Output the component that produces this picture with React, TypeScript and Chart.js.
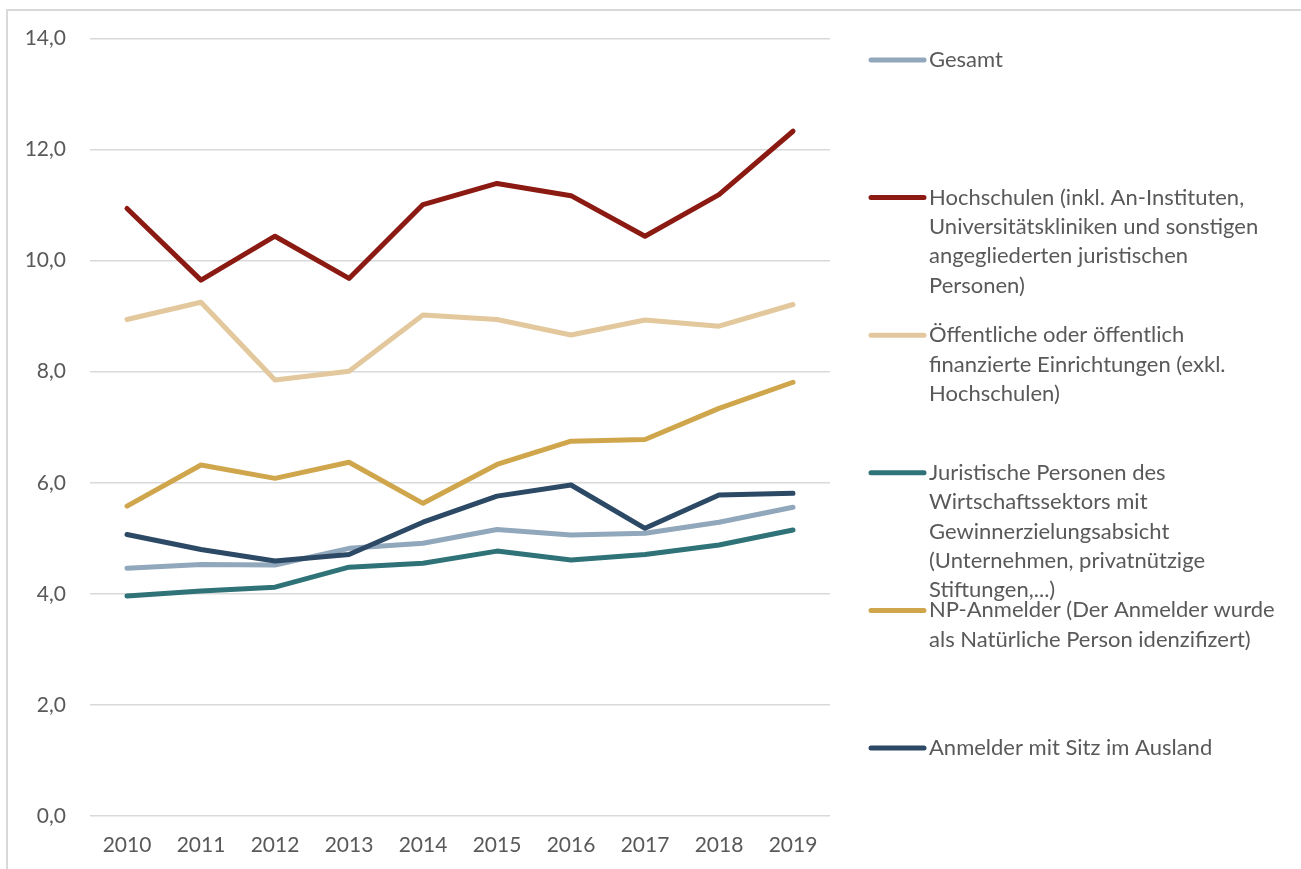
import React, { useEffect, useRef } from "react";
import { Chart, registerables } from "chart.js";

Chart.register(...registerables);

const years = ["2010", "2011", "2012", "2013", "2014", "2015", "2016", "2017", "2018", "2019"];
const gesamt = [4.46, 4.53, 4.52, 4.82, 4.91, 5.16, 5.06, 5.09, 5.29, 5.56];
const hochschulen = [10.94, 9.65, 10.44, 9.68, 11.01, 11.39, 11.17, 10.44, 11.19, 12.33];
const oeffentliche = [8.94, 9.25, 7.85, 8.01, 9.02, 8.94, 8.66, 8.93, 8.82, 9.21];
const juristische = [3.96, 4.05, 4.12, 4.48, 4.55, 4.77, 4.61, 4.71, 4.88, 5.15];
const npAnmelder = [5.58, 6.32, 6.08, 6.37, 5.63, 6.33, 6.75, 6.78, 7.34, 7.81];
const ausland = [5.07, 4.8, 4.59, 4.71, 5.29, 5.76, 5.96, 5.18, 5.78, 5.81];

const seriesNames = [
  "Gesamt",
  "Hochschulen (inkl. An-Instituten, Universitätskliniken und sonstigen angegliederten juristischen Personen)",
  "Öffentliche oder öffentlich finanzierte Einrichtungen (exkl. Hochschulen)",
  "Juristische Personen des Wirtschaftssektors mit Gewinnerzielungsabsicht (Unternehmen, privatnützige Stiftungen,...)",
  "NP-Anmelder (Der Anmelder wurde als Natürliche Person idenzifizert)",
  "Anmelder mit Sitz im Ausland",
];
const legendLines = [
  ["Gesamt"],
  ["Hochschulen (inkl. An-Instituten,", "Universitätskliniken und sonstigen", "angegliederten juristischen", "Personen)"],
  ["Öffentliche oder öffentlich", "finanzierte Einrichtungen (exkl.", "Hochschulen)"],
  ["Juristische Personen des", "Wirtschaftssektors mit", "Gewinnerzielungsabsicht", "(Unternehmen, privatnützige", "Stiftungen,...)"],
  ["NP-Anmelder (Der Anmelder wurde", "als Natürliche Person idenzifizert)"],
  ["Anmelder mit Sitz im Ausland"],
];
const colors = ["#91A7BC", "#8B1A12", "#E2C89C", "#2F7379", "#CFA64C", "#2C4966"];
const seriesValues = [gesamt, hochschulen, oeffentliche, juristische, npAnmelder, ausland];
const yTicks = [0, 2, 4, 6, 8, 10, 12, 14];

const FONT = "Lato, 'Open Sans', sans-serif";
const TEXT_COLOR = "#595959";

const legendPlugin = {
  id: "customLegend",
  afterDraw(chart: any) {
    const ctx = chart.ctx as CanvasRenderingContext2D;
    ctx.save();
    ctx.font = `22px ${FONT}`;
    ctx.fillStyle = TEXT_COLOR;
    ctx.textBaseline = "middle";
    ctx.textAlign = "left";
    legendLines.forEach((lines, i) => {
      const y = 60 + i * 137.6;
      ctx.strokeStyle = colors[i];
      ctx.lineWidth = 5;
      ctx.lineCap = "round";
      ctx.beginPath();
      ctx.moveTo(871, y);
      ctx.lineTo(924, y);
      ctx.stroke();
      lines.forEach((t, j) => {
        ctx.fillText(t, 929, y + j * 29.4);
      });
    });
    ctx.restore();
  },
};

export default function App() {
  const ref = useRef<HTMLCanvasElement>(null);
  useEffect(() => {
    if (!ref.current) return;
    const chart = new Chart(ref.current, {
      type: "line",
      data: {
        labels: years,
        datasets: seriesValues.map((vals, i) => ({
          label: seriesNames[i],
          data: vals,
          borderColor: colors[i],
          backgroundColor: colors[i],
          borderWidth: 5,
          pointRadius: 0,
          borderCapStyle: "round" as const,
          borderJoinStyle: "round" as const,
          tension: 0,
          order: seriesValues.length - 1 - i,
        })),
      },
      options: {
        responsive: false,
        animation: false,
        layout: { padding: { left: 0, top: 38.5, right: 471, bottom: 0 } },
        plugins: { legend: { display: false }, tooltip: { enabled: false } },
        scales: {
          x: {
            offset: true,
            grid: { display: false, drawTicks: false },
            border: { display: false },
            ticks: { color: TEXT_COLOR, font: { family: FONT, size: 21 }, padding: 17, maxRotation: 0 },
            afterFit: (s: any) => {
              s.height = 53;
            },
          },
          y: {
            min: 0,
            max: 14,
            afterBuildTicks: (s: any) => {
              s.ticks = yTicks.map((v) => ({ value: v }));
            },
            grid: { color: "#D9D9D9", lineWidth: 1.5, drawTicks: false },
            border: { display: false },
            ticks: {
              color: TEXT_COLOR,
              font: { family: FONT, size: 21 },
              padding: 24,
              callback: (v: any) => Number(v).toFixed(1).replace(".", ","),
            },
            afterFit: (s: any) => {
              s.width = 90;
            },
          },
        },
      },
      plugins: [legendPlugin],
    });
    return () => chart.destroy();
  }, []);
  return (
    <div style={{ position: "absolute", left: 0, top: 0, width: 1301, height: 869, background: "#fff" }}>
      <div
        style={{
          position: "absolute",
          left: 6,
          top: 9,
          width: 1300,
          height: 870,
          border: "2px solid #D9D9D9",
          boxSizing: "border-box",
        }}
      />
      <canvas ref={ref} width={1301} height={869} style={{ position: "absolute", left: 0, top: 0 }} />
    </div>
  );
}
